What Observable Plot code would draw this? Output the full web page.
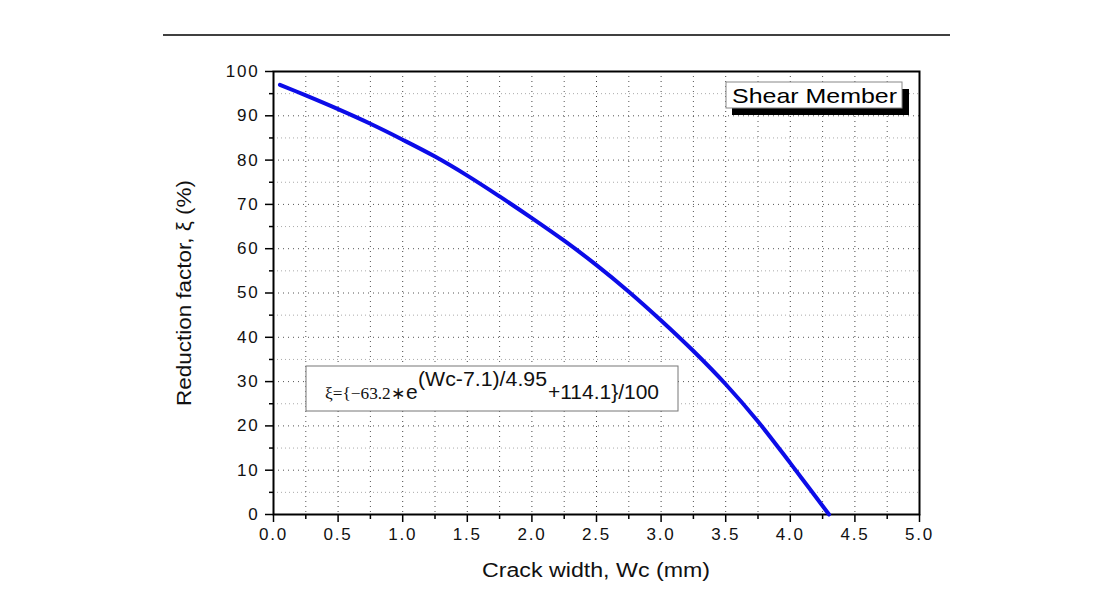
<!DOCTYPE html>
<html>
<head>
<meta charset="utf-8">
<script src="https://cdn.jsdelivr.net/npm/d3@7"></script>
<script src="https://cdn.jsdelivr.net/npm/@observablehq/plot@0.6"></script>
<style>
  html, body { margin: 0; padding: 0; background: #fff; }
  #chart svg { display: block; }
</style>
</head>
<body>
<div id="chart"></div>
<script>
// Data
const crackWidth = [0.05, 0.25, 0.5, 0.75, 1.0, 1.25, 1.5, 1.75, 2.0, 2.25, 2.5, 2.75, 3.0, 3.25, 3.5, 3.75, 4.0, 4.15, 4.30];
const reduction  = [97.0, 94.6, 91.5, 88.2, 84.6, 80.8, 76.5, 71.8, 66.9, 61.8, 56.3, 50.3, 43.8, 36.9, 29.4, 21.0, 11.6, 5.8, 0.0];
const xMajorTicks = [0, 0.5, 1, 1.5, 2, 2.5, 3, 3.5, 4, 4.5, 5];
const xMinorTicks = [0.25, 0.75, 1.25, 1.75, 2.25, 2.75, 3.25, 3.75, 4.25, 4.75];
const yMajorTicks = [0, 10, 20, 30, 40, 50, 60, 70, 80, 90, 100];
const yMinorTicks = [5, 15, 25, 35, 45, 55, 65, 75, 85, 95];
const xTitle = "Crack width, Wc (mm)";
const yTitle = "Reduction factor, ξ (%)";
const legendLabel = "Shear Member";

const curve = crackWidth.map((w, i) => ({w, r: reduction[i]}));

const W = 1105, H = 597;
const mL = 273, mR = 186, mT = 71, mB = 83;
const font = "Liberation Sans, Arial, sans-serif";

const chart = Plot.plot({
  width: W, height: H,
  marginLeft: mL, marginRight: mR, marginTop: mT, marginBottom: mB,
  style: {fontFamily: font, fontSize: "17px", background: "#fff", color: "#000", overflow: "visible"},
  x: {domain: [0, 5], label: null},
  y: {domain: [0, 100], label: null},
  marks: [
    // grid
    Plot.ruleX(xMajorTicks.filter(d => d > 0 && d < 5), {stroke: "#444", strokeWidth: 1, strokeDasharray: "1,4"}),
    Plot.ruleX(xMinorTicks, {stroke: "#555", strokeWidth: 1, strokeDasharray: "1,4"}),
    Plot.ruleY(yMajorTicks.filter(d => d > 0 && d < 100), {stroke: "#555", strokeWidth: 1, strokeDasharray: "1,4"}),
    Plot.ruleY(yMinorTicks, {stroke: "#aaa", strokeWidth: 1, strokeDasharray: "1,3"}),
    // axes
    Plot.axisX(xMajorTicks, {tickSize: 8, tickPadding: 5, tickFormat: d3.format(".1f"), fontSize: 17, stroke: "#000", strokeWidth: 1.5, label: null}),
    Plot.axisX(xMinorTicks, {tickSize: 5, tickFormat: () => "", stroke: "#000", strokeWidth: 1.5, label: null}),
    Plot.axisY(yMajorTicks, {tickSize: 8, tickPadding: 6, fontSize: 17, stroke: "#000", strokeWidth: 1.5, label: null}),
    Plot.axisY(yMinorTicks, {tickSize: 4, tickFormat: () => "", stroke: "#000", strokeWidth: 1.5, label: null}),
    Plot.frame({stroke: "#000", strokeWidth: 2}),
    // curve
    Plot.line(curve, {x: "w", y: "r", stroke: "#0c0ce8", strokeWidth: 4, curve: "catmull-rom"})
  ]
});

document.getElementById("chart").appendChild(chart);

// Axis tick labels (Plot's own texts)
const svg = d3.select(chart);
svg.selectAll("text")
  .style("font-size", "17px").style("letter-spacing", "1.8px").style("fill", "#111");

// top rule
svg.append("line").attr("x1", 163).attr("x2", 950).attr("y1", 35).attr("y2", 35)
  .attr("stroke", "#000").attr("stroke-width", 1.5);

// axis titles
svg.append("text").attr("x", 596).attr("y", 577).attr("text-anchor", "middle")
  .attr("font-family", font).attr("font-size", 20).attr("fill", "#111")
  .attr("textLength", 228).attr("lengthAdjust", "spacingAndGlyphs")
  .text(xTitle);
svg.append("text").attr("transform", "translate(191,293) rotate(-90)").attr("text-anchor", "middle")
  .attr("font-family", font).attr("font-size", 20).attr("fill", "#111")
  .attr("textLength", 226).attr("lengthAdjust", "spacingAndGlyphs")
  .text(yTitle);

// legend box with shadow
svg.append("rect").attr("x", 732).attr("y", 89).attr("width", 177).attr("height", 26).attr("fill", "#000");
svg.append("rect").attr("x", 726).attr("y", 82).attr("width", 176).attr("height", 26)
  .attr("fill", "#fff").attr("stroke", "#888").attr("stroke-width", 1);
svg.append("text").attr("x", 732).attr("y", 103).attr("text-anchor", "start")
  .attr("font-family", font).attr("font-size", 21).attr("fill", "#000")
  .attr("textLength", 165).attr("lengthAdjust", "spacingAndGlyphs")
  .text(legendLabel);

// formula box
svg.append("rect").attr("x", 306).attr("y", 366).attr("width", 372).attr("height", 45)
  .attr("fill", "#fff").attr("stroke", "#777").attr("stroke-width", 1);
const f = svg.append("text").attr("font-family", font).attr("fill", "#111").attr("text-anchor", "start");
f.append("tspan").attr("x", 325).attr("y", 399).attr("font-family", "Liberation Serif, Times New Roman, serif")
  .attr("font-size", 17).attr("textLength", 80).attr("lengthAdjust", "spacingAndGlyphs").text("ξ={−63.2∗");
f.append("tspan").attr("x", 406).attr("y", 399).attr("font-size", 21).text("e");
f.append("tspan").attr("x", 418).attr("y", 386).attr("font-size", 20)
  .attr("textLength", 129).attr("lengthAdjust", "spacingAndGlyphs").text("(Wc-7.1)/4.95");
f.append("tspan").attr("x", 548).attr("y", 399).attr("font-size", 21)
  .attr("textLength", 111).attr("lengthAdjust", "spacingAndGlyphs").text("+114.1}/100");
</script>
</body>
</html>
